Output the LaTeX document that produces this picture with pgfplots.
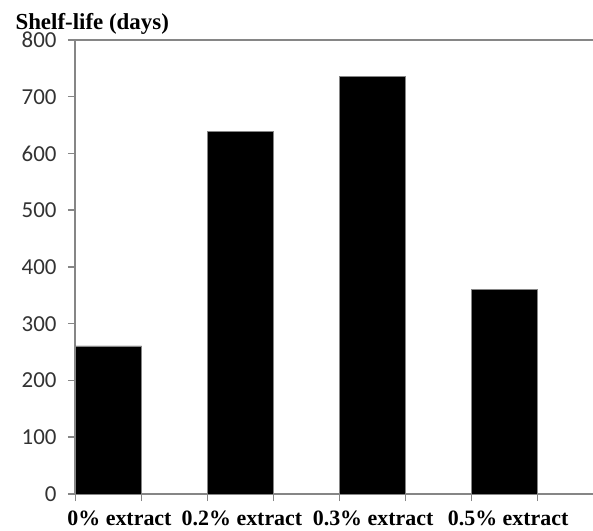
\documentclass[border=0pt]{standalone}
\usepackage{fontspec}
\setmainfont{Liberation Serif}
\newfontfamily\carlito{Carlito}
\usepackage{pgfplots}
\pgfplotsset{compat=1.18}
\definecolor{axisgray}{RGB}{134,134,134}
\begin{document}
\begin{tikzpicture}
\begin{axis}[
  name=ax,
  scale only axis,
  width=518bp, height=454bp,
  xmin=-0.2538, xmax=3.67,
  ymin=0, ymax=800,
  axis x line=box, axis y line=left,
  axis line style={axisgray, line width=1.5bp, -},
  ytick={0,100,...,800}, ytick pos=left,
  xtick={-0.25,0.25,0.75,1.25,1.75,2.25,2.75,3.25}, xticklabels={},
  xtick pos=bottom,
  tick align=outside, major tick length=7bp,
  tick style={axisgray, line width=1.5bp},
  extra x ticks={0.083,1.011,2.004,3.027},
  extra x tick labels={0\% extract, 0.2\% extract, 0.3\% extract, 0.5\% extract},
  extra x tick style={major tick length=0pt,
    tick label style={font=\bfseries\fontsize{22}{22}\selectfont, text=black, yshift=-13bp}},
  yticklabel style={font=\carlito\fontsize{23}{23}\selectfont, text=black!80, xshift=-8bp},
  /pgf/number format/assume math mode=true,
]
\addplot[ybar, fill=black, draw=axisgray, bar width=0.5]
  coordinates {(0,261) (1,639) (2,736) (3,360)};
\end{axis}
\node[anchor=base west, xshift=-63bp, yshift=10bp,
  font=\bfseries\fontsize{23}{23}\selectfont] at (ax.north west) {Shelf-life (days)};
\pgfresetboundingbox
\path ([shift={(-75bp,-37bp)}]ax.south west) rectangle ([shift={(0,40bp)}]ax.north east);
\end{tikzpicture}
\end{document}
